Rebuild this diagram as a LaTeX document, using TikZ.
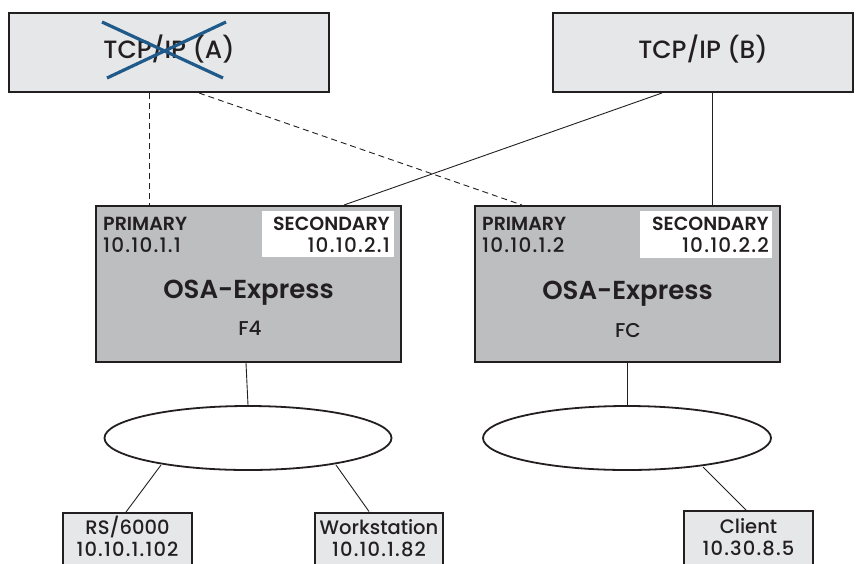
\documentclass[tikz,border=0pt]{standalone}
\usepackage{fontspec}
\setmainfont{Poppins}[UprightFont=* Medium, BoldFont=* SemiBold]
\usetikzlibrary{calc,shapes.geometric}
\definecolor{lightbox}{HTML}{E6E7E8}
\definecolor{osagray}{HTML}{BCBEC0}
\definecolor{crossblue}{HTML}{1F5A8A}
\definecolor{txt}{HTML}{231F20}
\newcommand{\numsp}{\addfontfeature{LetterSpace=6}}
\tikzset{
  topbox/.style={draw=txt, line width=2pt, fill=lightbox, minimum height=79pt, inner sep=0pt},
  toptext/.style={anchor=base, font=\fontsize{25}{27}\selectfont, text=txt, inner sep=0pt},
  osabox/.style={draw=txt, line width=2pt, fill=osagray, minimum width=305pt, minimum height=156pt, inner sep=0pt},
  lan/.style={ellipse, draw=txt, line width=1.8pt, fill=white, minimum width=287pt, minimum height=64pt, inner sep=0pt},
  hostbox/.style={draw=txt, line width=2pt, fill=lightbox, minimum width=129pt, minimum height=67pt, inner sep=0pt},
  hosttext/.style={anchor=base, font=\fontsize{19.5}{22}\selectfont, text=txt, inner sep=0pt},
  lbl/.style={font=\fontsize{20}{22}\selectfont, text=txt, inner sep=0pt},
  blbl/.style={font=\fontsize{19}{21}\selectfont\bfseries, text=txt, inner sep=0pt},
  bigl/.style={font=\fontsize{26}{28}\selectfont\bfseries, text=txt, inner sep=0pt, anchor=base},
  conn/.style={draw=txt, line width=0.9pt},
  dconn/.style={conn, dash pattern=on 6pt off 4pt},
}
\begin{document}
\begin{tikzpicture}[x=1pt,y=-1pt]
\useasboundingbox (0,0) rectangle (861,563);
\clip (0,0) rectangle (861,563);
% top boxes
\node[topbox, minimum width=320pt] (A) at (169,52.5) {};
\node[toptext] (Atxt) at (169,58) {TCP/IP (A)};
\node[topbox, minimum width=300pt] (B) at (703,52.5) {};
\node[toptext] (Btxt) at (703,58) {TCP/IP (B)};
% cross
\coordinate (x1) at (102,22); \coordinate (x2) at (223,78);
\coordinate (x3) at (107,78); \coordinate (x4) at (226,22);
\draw[crossblue, line width=3.2pt] (x1) -- (x2) (x3) -- (x4);
% OSA boxes
\node[osabox] (O1) at (248.5,284) {};
\node[osabox] (O2) at (627.5,284) {};
\node[fill=white, minimum width=132pt, minimum height=46pt, inner sep=0pt] (S1) at (328,234) {};
\node[fill=white, minimum width=132pt, minimum height=47pt, inner sep=0pt] (S2) at (706,234.5) {};
% left OSA texts
\node[blbl, anchor=base west] (p1) at (103,230) {PRIMARY};
\node[lbl, anchor=base west] (p1a) at (103,252) {\numsp 10.10.1.1};
\node[blbl, anchor=base east] (s1) at (390,230) {SECONDARY};
\node[lbl, anchor=base east] (s1a) at (390,252) {\numsp 10.10.2.1};
\node[bigl] (o1) at (248.5,298) {OSA-Express};
\node[lbl, anchor=base, font=\fontsize{20}{22}\selectfont] (f4) at (250,335) {F4};
% right OSA texts
\node[blbl, anchor=base west] (p2) at (482,230) {PRIMARY};
\node[lbl, anchor=base west] (p2a) at (482,252) {\numsp 10.10.1.2};
\node[blbl, anchor=base east] (s2) at (769,230) {SECONDARY};
\node[lbl, anchor=base east] (s2a) at (769,252) {\numsp 10.10.2.2};
\node[bigl] (o2) at (627.5,299) {OSA-Express};
\node[lbl, anchor=base, font=\fontsize{20}{22}\selectfont] (fc) at (628,337) {FC};
% connectors top
\draw[dconn] ($(A.south west)+(141,0)$) -- ($(O1.north west)+(54,0)$);
\draw[dconn] ($(A.south west)+(191,0)$) -- ($(O2.north west)+(48,0)$);
\draw[conn] ($(B.south west)+(110,0)$) -- ($(O1.north west)+(249,0)$);
\draw[conn] ($(B.south west)+(160,0)$) -- ($(O2.north west)+(238,0)$);
% LANs
\node[lan] (L1) at (248,438) {};
\node[lan, minimum width=288pt] (L2) at (627,438) {};
\draw[conn] ($(O1.south west)+(151,0)$) -- (L1.north);
\draw[conn] ($(O2.south west)+(153,0)$) -- (L2.north);
% hosts
\node[hostbox] (RS) at (127.5,546.5) {};
\node[hosttext] at (127.5,534) {RS/6000};
\node[hosttext] at (127.5,556) {\numsp 10.10.1.102};
\node[hostbox, minimum width=128pt] (WS) at (379,546) {};
\node[hosttext] at (379,534) {Workstation};
\node[hosttext] at (379,556) {\numsp 10.10.1.82};
\node[hostbox] (CL) at (748.5,544.5) {};
\node[hosttext] at (748.5,533) {Client};
\node[hosttext] at (748.5,555) {\numsp 10.30.8.5};
\draw[conn] ($(L1.center)+(-87,27)$) -- ($(RS.north west)+(64,0)$);
\draw[conn] ($(L1.center)+(88,27)$) -- ($(WS.north west)+(55,0)$);
\draw[conn] ($(L2.center)+(76,29)$) -- ($(CL.north west)+(63,0)$);
\end{tikzpicture}
\end{document}
